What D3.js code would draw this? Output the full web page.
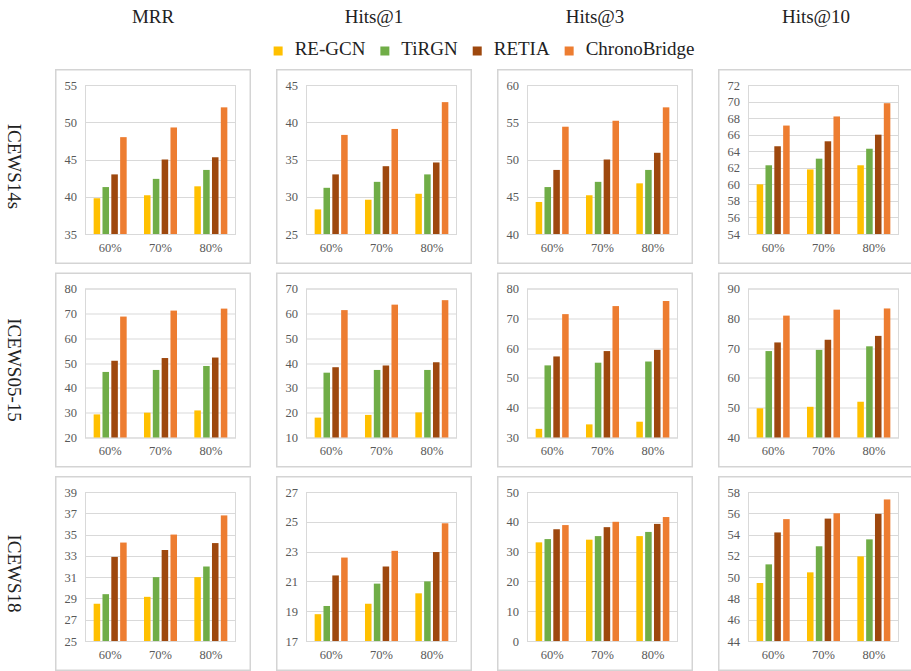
<!DOCTYPE html>
<html>
<head>
<meta charset="utf-8">
<script src="https://cdn.jsdelivr.net/npm/d3@7"></script>
<style>
  html, body { margin: 0; padding: 0; background: #fff; }
  svg { display: block; }
  svg text { font-family: "Liberation Serif", "Times New Roman", serif; }
</style>
</head>
<body>
<svg id="chart" width="911" height="671"></svg>
<script>
// Categories
const splits = ["60%", "70%", "80%"];
const models = ["RE-GCN", "TiRGN", "RETIA", "ChronoBridge"];
const modelColors = ["#FFC000", "#70AD47", "#9E480E", "#ED7D31"];
const metrics = ["MRR", "Hits@1", "Hits@3", "Hits@10"];
const datasets = ["ICEWS14s", "ICEWS05-15", "ICEWS18"];

// Values: one row per split, one entry per model (RE-GCN, TiRGN, RETIA, ChronoBridge)
const icews14sMRR    = [[39.8, 41.3, 43.0, 48.0], [40.2, 42.4, 45.0, 49.3], [41.4, 43.6, 45.3, 52.0]];
const icews14sHits1  = [[28.3, 31.2, 33.0, 38.3], [29.6, 32.0, 34.1, 39.1], [30.4, 33.0, 34.6, 42.7]];
const icews14sHits3  = [[44.3, 46.3, 48.6, 54.4], [45.2, 47.0, 50.0, 55.2], [46.8, 48.6, 50.9, 57.0]];
const icews14sHits10 = [[60.0, 62.3, 64.6, 67.1], [61.8, 63.1, 65.2, 68.2], [62.3, 64.3, 66.0, 69.8]];

const icews0515MRR    = [[29.3, 46.4, 50.9, 68.7], [30.0, 47.2, 52.0, 71.1], [30.9, 48.8, 52.2, 71.9]];
const icews0515Hits1  = [[18.0, 36.1, 38.3, 61.3], [19.1, 37.2, 39.0, 63.5], [20.1, 37.2, 40.3, 65.3]];
const icews0515Hits3  = [[32.9, 54.2, 57.2, 71.4], [34.4, 55.1, 59.0, 74.1], [35.3, 55.5, 59.4, 75.8]];
const icews0515Hits10 = [[49.8, 69.0, 71.9, 80.9], [50.3, 69.4, 72.8, 82.9], [52.0, 70.6, 74.1, 83.3]];

const icews18MRR    = [[28.5, 29.4, 32.9, 34.25], [29.15, 31.0, 33.55, 35.0], [31.0, 32.0, 34.2, 36.8]];
const icews18Hits1  = [[18.8, 19.35, 21.4, 22.6], [19.5, 20.85, 22.0, 23.05], [20.2, 21.0, 22.97, 24.9]];
const icews18Hits3  = [[33.1, 34.2, 37.5, 38.9], [34.0, 35.2, 38.2, 40.0], [35.2, 36.6, 39.3, 41.6]];
const icews18Hits10 = [[49.45, 51.2, 54.2, 55.45], [50.45, 52.9, 55.5, 56.0], [51.95, 53.55, 55.95, 57.3]];

// Y tick labels per panel (first and last give the axis range)
const ticks14s = [
  [35, 40, 45, 50, 55],
  [25, 30, 35, 40, 45],
  [40, 45, 50, 55, 60],
  [54, 56, 58, 60, 62, 64, 66, 68, 70, 72]
];
const ticks0515 = [
  [20, 30, 40, 50, 60, 70, 80],
  [10, 20, 30, 40, 50, 60, 70],
  [30, 40, 50, 60, 70, 80],
  [40, 50, 60, 70, 80, 90]
];
const ticks18 = [
  [25, 27, 29, 31, 33, 35, 37, 39],
  [17, 19, 21, 23, 25, 27],
  [0, 10, 20, 30, 40, 50],
  [44, 46, 48, 50, 52, 54, 56, 58]
];

const panelValues = [
  [icews14sMRR, icews14sHits1, icews14sHits3, icews14sHits10],
  [icews0515MRR, icews0515Hits1, icews0515Hits3, icews0515Hits10],
  [icews18MRR, icews18Hits1, icews18Hits3, icews18Hits10]
];
const panelTicks = [ticks14s, ticks0515, ticks18];

// Layout
const serif = "'Liberation Serif', 'Times New Roman', serif";
const svg = d3.select("#chart");
const boxW = 196, boxH = 195;
const colX = d3.scaleLinear().domain([0, 3]).range([55, 718]);
const rowY = d3.scaleLinear().domain([0, 2]).range([69, 476]);
const plotInset = { left: 30, right: 15, top: 16, bottom: 30 };
const plotW = boxW - plotInset.left - plotInset.right;
const plotH = boxH - plotInset.top - plotInset.bottom;

const grid = "#d9d9d9";
const tickColor = "#595959";

// Column titles
svg.selectAll("text.metric")
  .data(metrics)
  .join("text")
  .attr("class", "metric")
  .attr("x", (d, i) => colX(i) + boxW / 2)
  .attr("y", 23)
  .attr("text-anchor", "middle")
  .style("font-family", serif)
  .attr("font-size", 19)
  .attr("fill", "#222")
  .text(d => d);

// Row titles (vertical)
svg.selectAll("text.dataset")
  .data(datasets)
  .join("text")
  .attr("class", "dataset")
  .attr("transform", (d, i) => `translate(14,${rowY(i) + boxH / 2}) rotate(90)`)
  .attr("text-anchor", "middle")
  .attr("dominant-baseline", "central")
  .style("font-family", serif)
  .attr("font-size", 19)
  .attr("fill", "#222")
  .text(d => d);

// Legend
const legend = svg.append("g").attr("class", "legend");
const legendItems = legend.selectAll("g")
  .data(models)
  .join("g");
legendItems.append("rect")
  .attr("width", 9).attr("height", 9)
  .attr("y", 46.5)
  .attr("fill", (d, i) => modelColors[i]);
legendItems.append("text")
  .attr("x", 21)
  .attr("y", 55)
  .style("font-family", serif)
  .attr("font-size", 19)
  .attr("fill", "#222")
  .text(d => d);
let cursor = 0;
const offsets = [];
legendItems.each(function () {
  offsets.push(cursor);
  const w = d3.select(this).select("text").node().getComputedTextLength();
  cursor += 21 + w + 15;
});
const legendWidth = cursor - 15;
const legendStart = 484 - legendWidth / 2;
legendItems.attr("transform", (d, i) => `translate(${legendStart + offsets[i]},0)`);

// Panels
datasets.forEach((ds, r) => {
  metrics.forEach((m, c) => {
    const values = panelValues[r][c];
    const ticks = panelTicks[r][c];
    const bx = colX(c), by = rowY(r);
    const g = svg.append("g").attr("transform", `translate(${bx},${by})`);

    // outer frame
    g.append("rect")
      .attr("x", 0.75).attr("y", 0.75)
      .attr("width", boxW - 1.5).attr("height", boxH - 1.5)
      .attr("fill", "#fff")
      .attr("stroke", "#d4d4d4")
      .attr("stroke-width", 1.5);

    const p = g.append("g").attr("transform", `translate(${plotInset.left},${plotInset.top})`);

    const y = d3.scaleLinear().domain([ticks[0], ticks[ticks.length - 1]]).range([plotH, 0]);
    const x0 = d3.scaleBand().domain(splits).range([0, plotW]).paddingInner(0.344).paddingOuter(0.172);
    const x1 = d3.scaleBand().domain(models).range([0, x0.bandwidth()]).paddingInner(0.26);

    // gridlines
    p.append("g")
      .selectAll("line")
      .data(ticks)
      .join("line")
      .attr("x1", 0).attr("x2", plotW)
      .attr("y1", d => Math.round(y(d)) + 0.5)
      .attr("y2", d => Math.round(y(d)) + 0.5)
      .attr("stroke", grid)
      .attr("stroke-width", 1);

    // plot area frame
    p.append("rect")
      .attr("x", 0.5).attr("y", 0.5)
      .attr("width", plotW - 1).attr("height", plotH)
      .attr("fill", "none")
      .attr("stroke", grid)
      .attr("stroke-width", 1);

    // y axis labels
    const yAxis = d3.axisLeft(y).tickValues(ticks).tickSize(0).tickPadding(8).tickFormat(d3.format("d"));
    const ya = p.append("g").call(yAxis).attr("font-family", null);
    ya.select(".domain").remove();
    ya.selectAll("text")
      .style("font-family", serif)
      .attr("font-size", 12.5)
      .attr("fill", tickColor);

    // x axis labels
    const xAxis = d3.axisBottom(x0).tickSize(0).tickPadding(9);
    const xa = p.append("g").attr("transform", `translate(0,${plotH})`).call(xAxis).attr("font-family", null);
    xa.select(".domain").remove();
    xa.selectAll("text")
      .style("font-family", serif)
      .attr("font-size", 12.5)
      .attr("fill", tickColor);

    // bars
    const groups = p.append("g")
      .selectAll("g")
      .data(values.map((row, i) => ({ split: splits[i], row })))
      .join("g")
      .attr("transform", d => `translate(${x0(d.split)},0)`);
    groups.selectAll("rect")
      .data(d => d.row.map((v, k) => ({ model: models[k], k, v })))
      .join("rect")
      .attr("x", d => x1(d.model))
      .attr("width", x1.bandwidth())
      .attr("y", d => y(d.v))
      .attr("height", d => plotH - y(d.v))
      .attr("fill", d => modelColors[d.k]);
  });
});
</script>
</body>
</html>
